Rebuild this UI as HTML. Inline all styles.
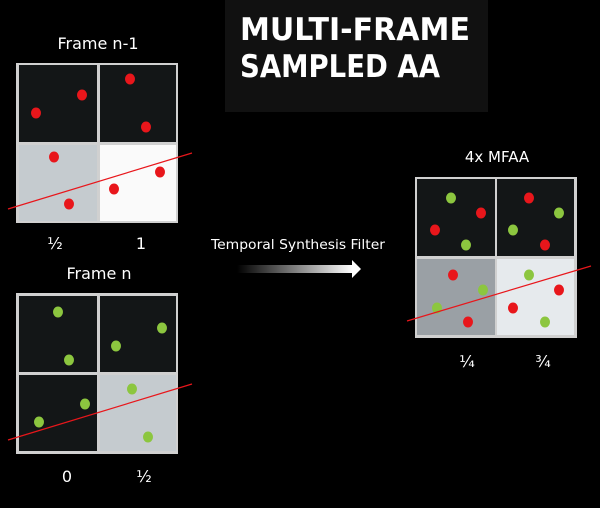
<!DOCTYPE html>
<html><head><style>
html,body{margin:0;padding:0;background:#000;}
body{width:600px;height:503px;overflow:hidden;}
text{font-family:"DejaVu Sans","Liberation Sans",sans-serif;fill:#fff;}
</style></head><body>
<svg width="600" height="503" viewBox="0 0 600 503" xmlns="http://www.w3.org/2000/svg">
<defs>
<linearGradient id="ag" x1="0" x2="1" y1="0" y2="0">
<stop offset="0" stop-color="#fff" stop-opacity="0"/>
<stop offset="1" stop-color="#fff" stop-opacity="1"/>
</linearGradient>
</defs>
<rect width="600" height="503" fill="#000"/>
<rect x="225" y="0" width="263" height="112" fill="#111"/>
<text x="240" y="40" font-size="31" font-weight="bold" textLength="230" lengthAdjust="spacingAndGlyphs">MULTI-FRAME</text>
<text x="240" y="77" font-size="31" font-weight="bold" textLength="200" lengthAdjust="spacingAndGlyphs">SAMPLED AA</text>

<!-- Frame n-1 -->
<text x="98" y="49" font-size="16" text-anchor="middle">Frame n-1</text>
<rect x="16" y="63" width="162" height="160" fill="#d0d0d0"/>
<rect x="19" y="65" width="78" height="77" fill="#131617"/>
<rect x="100" y="65" width="76" height="77" fill="#131617"/>
<rect x="19" y="145" width="78" height="76" fill="#c5cbcf"/>
<rect x="100" y="145" width="76" height="76" fill="#fafafa"/>
<g fill="#e8161b">
<ellipse cx="36" cy="113" rx="5" ry="5.5"/><ellipse cx="82" cy="95" rx="5" ry="5.5"/>
<ellipse cx="130" cy="79" rx="5" ry="5.5"/><ellipse cx="146" cy="127" rx="5" ry="5.5"/>
<ellipse cx="54" cy="157" rx="5" ry="5.5"/><ellipse cx="69" cy="204" rx="5" ry="5.5"/>
<ellipse cx="114" cy="189" rx="5" ry="5.5"/><ellipse cx="160" cy="172" rx="5" ry="5.5"/>
</g>
<line x1="8" y1="209" x2="192" y2="153" stroke="#e8161b" stroke-width="1.2"/>
<text x="55" y="249" font-size="16" text-anchor="middle">½</text>
<text x="141" y="249" font-size="16" text-anchor="middle">1</text>

<!-- Frame n -->
<text x="99" y="279" font-size="16" text-anchor="middle">Frame n</text>
<rect x="16" y="293" width="162" height="161" fill="#d0d0d0"/>
<rect x="19" y="296" width="78" height="76" fill="#131617"/>
<rect x="100" y="296" width="76" height="76" fill="#131617"/>
<rect x="19" y="375" width="78" height="76" fill="#131617"/>
<rect x="100" y="375" width="76" height="76" fill="#c5cbcf"/>
<g fill="#8cc63f">
<ellipse cx="58" cy="312" rx="5" ry="5.5"/><ellipse cx="69" cy="360" rx="5" ry="5.5"/>
<ellipse cx="162" cy="328" rx="5" ry="5.5"/><ellipse cx="116" cy="346" rx="5" ry="5.5"/>
<ellipse cx="85" cy="404" rx="5" ry="5.5"/><ellipse cx="39" cy="422" rx="5" ry="5.5"/>
<ellipse cx="132" cy="389" rx="5" ry="5.5"/><ellipse cx="148" cy="437" rx="5" ry="5.5"/>
</g>
<line x1="8" y1="440" x2="192" y2="384" stroke="#e8161b" stroke-width="1.2"/>
<text x="67" y="482" font-size="16" text-anchor="middle">0</text>
<text x="144" y="482" font-size="16" text-anchor="middle">½</text>

<!-- arrow -->
<text x="211" y="249" font-size="13" textLength="174" lengthAdjust="spacingAndGlyphs">Temporal Synthesis Filter</text>
<rect x="237" y="265" width="116" height="8" fill="url(#ag)"/>
<polygon points="352,260 361,269 352,278" fill="#fff"/>

<!-- MFAA -->
<text x="497" y="162" font-size="15" text-anchor="middle">4x MFAA</text>
<rect x="415" y="177" width="162" height="161" fill="#d0d0d0"/>
<rect x="417" y="179" width="78" height="77" fill="#131617"/>
<rect x="497" y="179" width="77" height="77" fill="#131617"/>
<rect x="417" y="259" width="78" height="76" fill="#9aa0a5"/>
<rect x="497" y="259" width="77" height="76" fill="#e6eaed"/>
<g fill="#8cc63f">
<ellipse cx="451" cy="198" rx="5" ry="5.5"/><ellipse cx="466" cy="245" rx="5" ry="5.5"/>
<ellipse cx="559" cy="213" rx="5" ry="5.5"/><ellipse cx="513" cy="230" rx="5" ry="5.5"/>
<ellipse cx="483" cy="290" rx="5" ry="5.5"/><ellipse cx="437" cy="308" rx="5" ry="5.5"/>
<ellipse cx="529" cy="275" rx="5" ry="5.5"/><ellipse cx="545" cy="322" rx="5" ry="5.5"/>
</g>
<g fill="#e8161b">
<ellipse cx="481" cy="213" rx="5" ry="5.5"/><ellipse cx="435" cy="230" rx="5" ry="5.5"/>
<ellipse cx="529" cy="198" rx="5" ry="5.5"/><ellipse cx="545" cy="245" rx="5" ry="5.5"/>
<ellipse cx="453" cy="275" rx="5" ry="5.5"/><ellipse cx="468" cy="322" rx="5" ry="5.5"/>
<ellipse cx="559" cy="290" rx="5" ry="5.5"/><ellipse cx="513" cy="308" rx="5" ry="5.5"/>
</g>
<line x1="407" y1="321" x2="591" y2="266" stroke="#e8161b" stroke-width="1.2"/>
<text x="467" y="367" font-size="16" text-anchor="middle">¼</text>
<text x="543" y="367" font-size="16" text-anchor="middle">¾</text>
</svg>
</body></html>
